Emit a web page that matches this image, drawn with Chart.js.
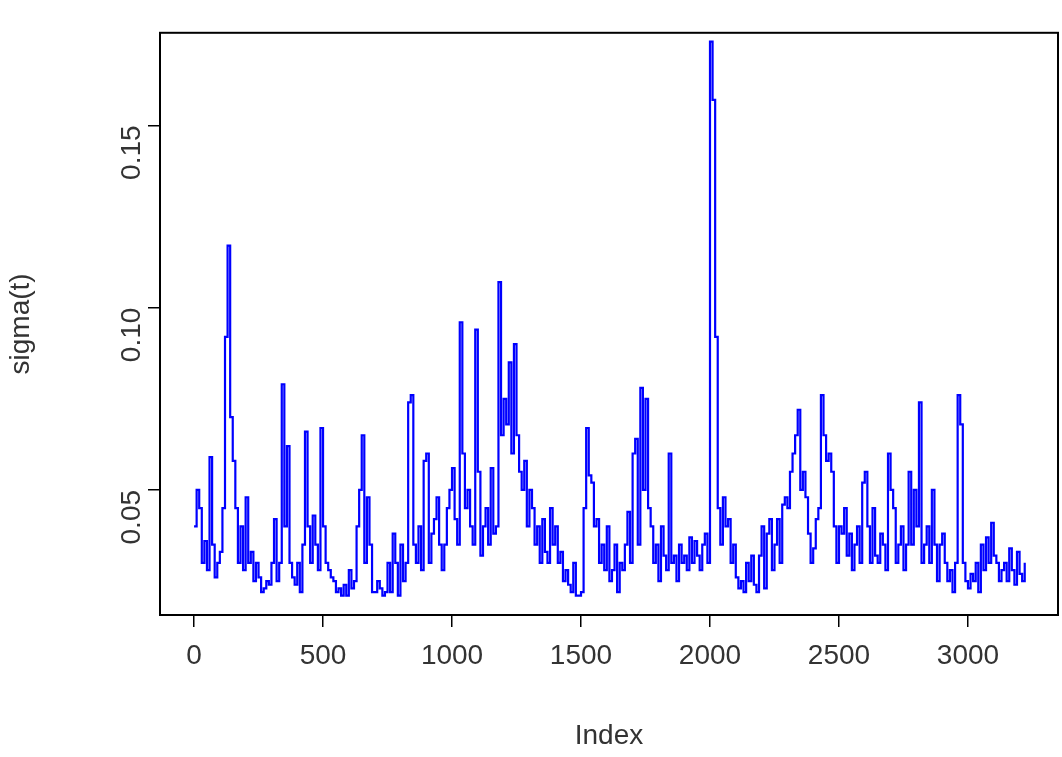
<!DOCTYPE html>
<html><head><meta charset="utf-8">
<script src="https://cdn.jsdelivr.net/npm/chart.js@4"></script>
<style>html,body{margin:0;padding:0;background:#fff}#w{width:1062px;height:757px}</style>
</head><body><div id="w"><canvas id="c" width="1062" height="757"></canvas></div>
<script>
const indexStep = 10;
const sigmaValues = [
0.040,0.050,0.045,0.030,0.036,0.028,0.059,0.035,0.026,0.030,
0.033,0.045,0.092,0.117,0.070,0.058,0.045,0.030,0.040,0.028,
0.048,0.030,0.033,0.025,0.030,0.026,0.022,0.023,0.025,0.024,
0.030,0.042,0.025,0.030,0.079,0.040,0.062,0.030,0.026,0.024,
0.030,0.022,0.035,0.066,0.040,0.030,0.043,0.035,0.028,0.067,
0.040,0.030,0.028,0.026,0.025,0.022,0.023,0.021,0.024,0.021,
0.028,0.023,0.025,0.040,0.050,0.065,0.030,0.048,0.035,0.022,
0.022,0.025,0.023,0.021,0.022,0.030,0.022,0.038,0.030,0.021,
0.035,0.025,0.030,0.074,0.076,0.035,0.030,0.040,0.028,0.058,
0.060,0.030,0.038,0.042,0.048,0.035,0.028,0.035,0.045,0.050,
0.056,0.042,0.035,0.096,0.060,0.045,0.050,0.040,0.035,0.094,
0.055,0.032,0.040,0.045,0.035,0.056,0.038,0.040,0.107,0.065,
0.075,0.068,0.085,0.060,0.090,0.065,0.055,0.050,0.058,0.040,
0.050,0.045,0.035,0.040,0.030,0.042,0.033,0.030,0.045,0.035,
0.040,0.030,0.033,0.025,0.028,0.024,0.022,0.030,0.021,0.021,
0.022,0.045,0.067,0.054,0.052,0.040,0.042,0.030,0.035,0.028,
0.040,0.025,0.028,0.035,0.022,0.030,0.028,0.035,0.044,0.030,
0.060,0.064,0.035,0.078,0.050,0.075,0.045,0.040,0.030,0.035,
0.025,0.040,0.032,0.028,0.060,0.030,0.032,0.025,0.035,0.030,
0.032,0.028,0.037,0.030,0.036,0.032,0.028,0.035,0.038,0.030,
0.173,0.157,0.092,0.045,0.035,0.048,0.040,0.042,0.030,0.035,
0.026,0.023,0.025,0.022,0.030,0.025,0.032,0.024,0.022,0.032,
0.040,0.023,0.038,0.042,0.028,0.035,0.042,0.030,0.046,0.048,
0.045,0.055,0.060,0.065,0.072,0.050,0.055,0.048,0.038,0.030,
0.034,0.042,0.045,0.076,0.065,0.058,0.060,0.055,0.040,0.030,
0.040,0.038,0.045,0.032,0.038,0.028,0.035,0.040,0.030,0.052,
0.055,0.040,0.030,0.045,0.032,0.030,0.038,0.035,0.028,0.060,
0.050,0.045,0.030,0.035,0.040,0.028,0.035,0.055,0.035,0.050,
0.040,0.074,0.030,0.035,0.040,0.030,0.050,0.035,0.025,0.035,
0.038,0.030,0.025,0.028,0.022,0.030,0.076,0.068,0.030,0.025,
0.023,0.027,0.025,0.030,0.022,0.035,0.028,0.037,0.030,0.041,
0.032,0.030,0.025,0.028,0.030,0.025,0.034,0.028,0.024,0.033,
0.027,0.025,0.030];
const xTicks = [0,500,1000,1500,2000,2500,3000];
const yTicks = [0.05,0.10,0.15];

const pts = sigmaValues.map((v,i)=>({x:i*indexStep,y:v}));
const boxPlugin = {id:'box',afterDraw(c){const a=c.chartArea,g=c.ctx;g.save();g.strokeStyle='#000';g.lineWidth=2;g.strokeRect(a.left,a.top,a.right-a.left,a.bottom-a.top);g.restore();}};
const F = {family:"'Liberation Sans', Arial, sans-serif", size:28};
new Chart(document.getElementById('c'),{
 type:'line',
 data:{datasets:[{data:pts,borderColor:'#0000ff',borderWidth:2.2,pointRadius:0,tension:0,stepped:'before'}]},
 options:{responsive:false,animation:false,
  layout:{padding:{top:-12,right:4,left:0,bottom:0}},
  plugins:{legend:{display:false},tooltip:{enabled:false}},
  scales:{
   x:{type:'linear',min:-132,max:3349,
     afterBuildTicks(s){s.ticks=xTicks.map(v=>({value:v}));},
     afterFit(s){s.height=142;},
     grid:{drawOnChartArea:false,tickLength:12,color:'#000',lineWidth:1.5},border:{display:false},
     ticks:{color:'#333',font:F,maxRotation:0,padding:12,callback:v=>String(v)},
     title:{display:true,text:'Index',color:'#333',font:F,padding:{top:24}}},
   y:{min:0.0157,max:0.1754,
     afterBuildTicks(s){s.ticks=yTicks.map(v=>({value:v}));},
     afterFit(s){s.width=160;},
     grid:{drawOnChartArea:false,tickLength:12,color:'#000',lineWidth:1.5},border:{display:false},
     ticks:{color:'#333',font:F,minRotation:90,maxRotation:90,padding:16,callback:v=>v.toFixed(2)},
     title:{display:true,text:'sigma(t)',color:'#333',font:F,padding:{bottom:12}}}
  }},
 plugins:[boxPlugin]
});
</script></body></html>
